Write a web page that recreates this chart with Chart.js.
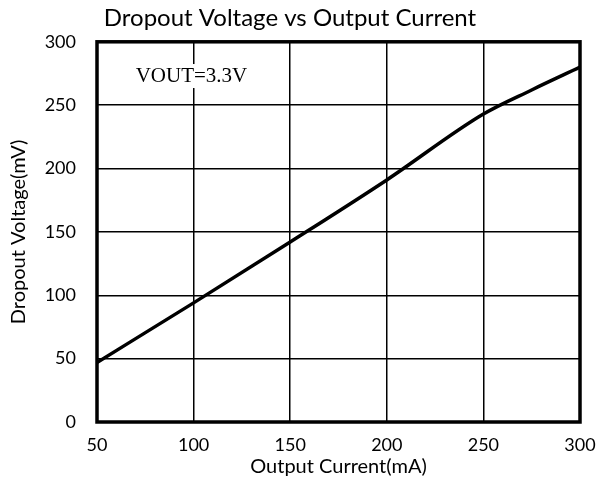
<!DOCTYPE html>
<html>
<head>
<meta charset="utf-8">
<script src="https://cdn.jsdelivr.net/npm/chart.js@4/dist/chart.umd.min.js"></script>
<style>
  html, body { margin: 0; padding: 0; background: #fff; }
</style>
</head>
<body>
<canvas id="chart" width="600" height="493"></canvas>
<script>
// data
const currentMA = [50, 100, 150, 200, 250, 275, 300];
const dropoutMV = [47, 94, 142, 191, 243, 262, 280];
const xTicks = [50, 100, 150, 200, 250, 300];
const yTicks = [0, 50, 100, 150, 200, 250, 300];
const note = 'VOUT=3.3V';

const sans = 'Lato, "Open Sans", sans-serif';

// thick frame around the plot + the VOUT note
const framePlugin = {
  id: 'frame',
  afterDatasetsDraw(chart) {
    const { ctx, chartArea: a, scales } = chart;
    ctx.save();
    ctx.font = '21px "Liberation Serif", "Times New Roman", serif';
    ctx.textBaseline = 'middle';
    const tx = scales.x.getPixelForValue(70);
    const ty = scales.y.getPixelForValue(273);
    const w = ctx.measureText(note).width;
    ctx.fillStyle = '#fff';
    ctx.fillRect(tx - 3, ty - 12, w + 6, 24);
    ctx.fillStyle = '#000';
    ctx.fillText(note, tx, ty);
    ctx.lineWidth = 3.5;
    ctx.strokeStyle = '#000';
    ctx.strokeRect(a.left, a.top, a.right - a.left, a.bottom - a.top);
    ctx.restore();
  }
};

new Chart(document.getElementById('chart'), {
  type: 'line',
  data: {
    datasets: [{
      data: currentMA.map((x, i) => ({ x: x, y: dropoutMV[i] })),
      borderColor: '#000',
      borderWidth: 3.5,
      pointRadius: 0,
      cubicInterpolationMode: 'monotone',
      fill: false
    }]
  },
  options: {
    responsive: false,
    animation: false,
    layout: { padding: { left: 0, right: 20, top: 0, bottom: 0 } },
    plugins: {
      legend: { display: false },
      tooltip: { enabled: false },
      title: {
        display: true,
        text: 'Dropout Voltage vs Output Current',
        color: '#000',
        font: { family: sans, size: 24, weight: 'normal' },
        padding: { top: 4, bottom: 9 }
      }
    },
    scales: {
      x: {
        type: 'linear',
        min: 50,
        max: 300,
        afterBuildTicks(s) { s.ticks = xTicks.map(v => ({ value: v })); },
        afterFit(s) { s.height = 71; s.paddingLeft = 0; s.paddingRight = 0; },
        grid: { color: '#000', lineWidth: 1.5, drawTicks: false },
        border: { display: false },
        ticks: { color: '#000', padding: 12, font: { family: sans, size: 18 } },
        title: {
          display: true,
          text: 'Output Current(mA)',
          color: '#000',
          padding: { top: 0, bottom: 14 },
          font: { family: sans, size: 20 }
        }
      },
      y: {
        min: 0,
        max: 300,
        afterBuildTicks(s) { s.ticks = yTicks.map(v => ({ value: v })); },
        afterFit(s) { s.width = 97; },
        grid: { color: '#000', lineWidth: 1.5, drawTicks: false },
        border: { display: false },
        ticks: { color: '#000', padding: 21, font: { family: sans, size: 18 } },
        title: {
          display: true,
          text: 'Dropout Voltage(mV)',
          color: '#000',
          padding: { top: 7, bottom: 0 },
          font: { family: sans, size: 20 }
        }
      }
    }
  },
  plugins: [framePlugin]
});
</script>
</body>
</html>
